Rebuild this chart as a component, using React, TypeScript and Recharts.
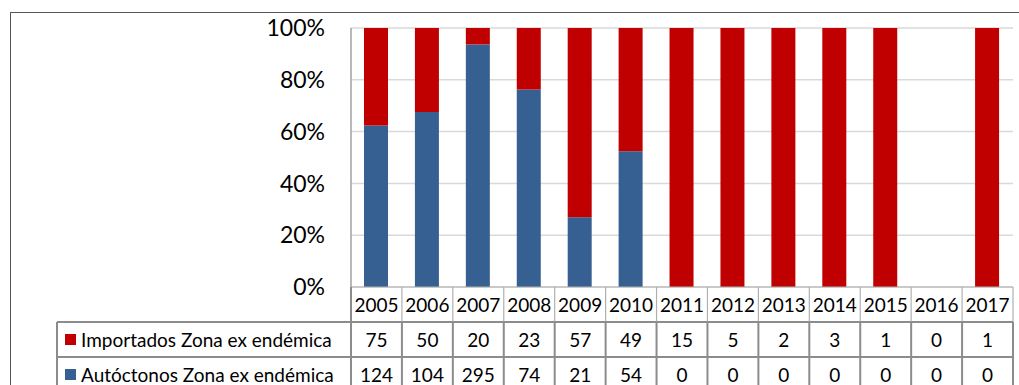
import React from 'react';
import { BarChart, Bar, XAxis, YAxis, CartesianGrid } from 'recharts';

// Yearly case counts by origin
const years = ['2005', '2006', '2007', '2008', '2009', '2010', '2011', '2012', '2013', '2014', '2015', '2016', '2017'];
const importados = [75, 50, 20, 23, 57, 49, 15, 5, 2, 3, 1, 0, 1];
const autoctonos = [124, 104, 295, 74, 21, 54, 0, 0, 0, 0, 0, 0, 0];
const yTicks = [0, 0.2, 0.4, 0.6, 0.8, 1];

const IMP_LABEL = 'Importados Zona ex endémica';
const AUT_LABEL = 'Autóctonos Zona ex endémica';
const RED = '#c00000';
const BLUE = '#376092';

const data = years.map((year, i) => ({
  year,
  autoctonos: autoctonos[i],
  importados: importados[i],
}));

// Layout
const W = 1019;
const H = 385;
const PLOT_LEFT = 351;
const PLOT_RIGHT_PAD = 6;
const PLOT_TOP = 28;
const TABLE_H = 98;
const COL_W = (W - PLOT_LEFT - PLOT_RIGHT_PAD) / years.length;
const ROW_H = 35;
const LEGEND_LEFT = 57;
const FONT = 'Lato, "Open Sans", sans-serif';
const GRID_DARK = '#8c8c8c';
const GRID_LIGHT = '#b0b0b0';

// Draws one column of the data table under each category
const TableTick = (props: any) => {
  const { x, y, payload } = props;
  const i: number = payload.index;
  const left = x - COL_W / 2;
  const right = x + COL_W / 2;
  const r1 = y + ROW_H;
  const r2 = y + ROW_H * 2;
  const bottom = y + ROW_H * 3;
  const textStyle = { fontFamily: FONT, fontSize: 19, fill: '#000' };
  return (
    <g>
      {/* header vertical border */}
      <line x1={right} y1={y} x2={right} y2={r1} stroke={GRID_LIGHT} strokeWidth={1.2} />
      {/* value rows vertical border */}
      <line x1={right} y1={r1} x2={right} y2={bottom} stroke={GRID_DARK} strokeWidth={2} />
      <line x1={left} y1={r1} x2={right} y2={r1} stroke={GRID_DARK} strokeWidth={2} />
      <line x1={left} y1={r2} x2={right} y2={r2} stroke={GRID_DARK} strokeWidth={2} />
      <text x={x} y={y + ROW_H / 2} textAnchor="middle" dominantBaseline="central" style={textStyle}>
        {years[i]}
      </text>
      <text x={x} y={r1 + ROW_H / 2} textAnchor="middle" dominantBaseline="central" style={textStyle}>
        {importados[i]}
      </text>
      <text x={x} y={r2 + ROW_H / 2} textAnchor="middle" dominantBaseline="central" style={textStyle}>
        {autoctonos[i]}
      </text>
      {i === 0 && (
        <g>
          <line x1={left} y1={y} x2={left} y2={bottom} stroke={GRID_DARK} strokeWidth={2} />
          <line x1={LEGEND_LEFT} y1={r1} x2={left} y2={r1} stroke={GRID_DARK} strokeWidth={2} />
          <line x1={LEGEND_LEFT} y1={r2} x2={left} y2={r2} stroke={GRID_DARK} strokeWidth={2} />
          <line x1={LEGEND_LEFT} y1={r1} x2={LEGEND_LEFT} y2={bottom} stroke={GRID_DARK} strokeWidth={2} />
          <rect x={65} y={r1 + ROW_H / 2 - 5.5} width={11} height={11} fill={RED} />
          <text x={81} y={r1 + ROW_H / 2} dominantBaseline="central" style={textStyle}>
            {IMP_LABEL}
          </text>
          <rect x={65} y={r2 + ROW_H / 2 - 5.5} width={11} height={11} fill={BLUE} />
          <text x={81} y={r2 + ROW_H / 2} dominantBaseline="central" style={textStyle}>
            {AUT_LABEL}
          </text>
        </g>
      )}
    </g>
  );
};

export default function App() {
  return (
    <div style={{ position: 'absolute', left: 0, top: 0, width: W, height: H, background: '#fff', overflow: 'hidden' }}>
      <div
        style={{
          position: 'absolute',
          left: 10,
          top: 12,
          width: W,
          height: H,
          borderLeft: '1.5px solid #555',
          borderTop: '1.5px solid #555',
        }}
      />
      <BarChart
        width={W}
        height={H}
        data={data}
        stackOffset="expand"
        barSize={24}
        margin={{ top: PLOT_TOP, right: PLOT_RIGHT_PAD, bottom: 0, left: 0 }}
        style={{ position: 'absolute', left: 0, top: 0 }}
      >
        <CartesianGrid vertical={false} stroke="#d9d9d9" strokeWidth={1.5} />
        <YAxis
          width={PLOT_LEFT}
          domain={[0, 1]}
          ticks={yTicks}
          tickFormatter={(v: number) => `${Math.round(v * 100)}%`}
          tickLine={false}
          tickSize={0}
          tickMargin={26}
          axisLine={{ stroke: '#a0a0a0', strokeWidth: 1.5 }}
          tick={{ fontFamily: FONT, fontSize: 23, fill: '#000' }}
        />
        <XAxis
          dataKey="year"
          height={TABLE_H}
          tickLine={false}
          tickSize={0}
          tickMargin={0}
          axisLine={{ stroke: GRID_LIGHT, strokeWidth: 1.2 }}
          interval={0}
          tick={<TableTick />}
        />
        <Bar dataKey="autoctonos" name={AUT_LABEL} stackId="a" fill={BLUE} isAnimationActive={false} />
        <Bar dataKey="importados" name={IMP_LABEL} stackId="a" fill={RED} isAnimationActive={false} />
      </BarChart>
    </div>
  );
}
